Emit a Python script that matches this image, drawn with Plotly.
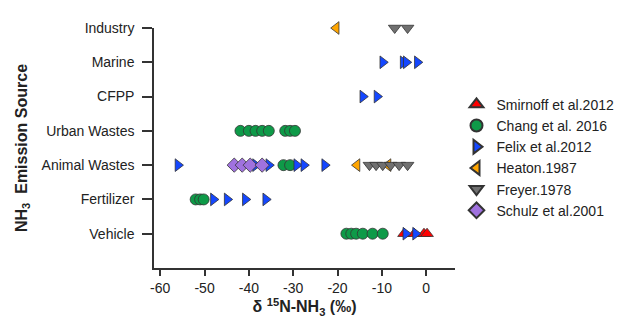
import plotly.graph_objects as go

# Categories (bottom to top)
categories = ["Vehicle", "Fertilizer", "Animal Wastes", "Urban Wastes", "CFPP", "Marine", "Industry"]
x_ticks = [-60, -50, -40, -30, -20, -10, 0]

# delta15N-NH3 values (permil) by study and source
smirnoff_vehicle = [-5.0, -2.7, -0.5, 0.2]

chang_vehicle = [-18.0, -16.9, -15.8, -14.3, -12.1, -9.8]
chang_fertilizer = [-52.0, -51.0, -50.2]
chang_animal = [-32.2, -30.7]
chang_urban = [-41.9, -40.0, -38.5, -37.0, -35.5, -31.8, -30.7, -29.6]

felix_vehicle = [-4.6, -2.4]
felix_fertilizer = [-48.0, -44.9, -40.8, -36.2]
felix_animal = [-56.0, -38.5, -35.5, -29.2, -27.6, -22.9]
felix_cfpp = [-14.3, -11.1]
felix_marine = [-9.8, -5.2, -4.5, -2.0]

heaton_animal = [-15.6, -8.6]
heaton_industry = [-20.3]

freyer_animal = [-12.8, -11.3, -9.8, -8.0, -6.1, -4.2]
freyer_industry = [-7.1, -4.2]

schulz_animal = [-43.3, -41.5, -39.7, -37.0]


def ypos(name):
    return categories.index(name) + 1


def series(groups):
    xs, ys = [], []
    for cat, vals in groups:
        xs += vals
        ys += [ypos(cat)] * len(vals)
    return xs, ys


traces = [
    ("Smirnoff et al.2012", "triangle-up", "#FF0000",
     [("Vehicle", smirnoff_vehicle)]),
    ("Chang et al. 2016", "circle", "#0E9A48",
     [("Vehicle", chang_vehicle), ("Fertilizer", chang_fertilizer),
      ("Animal Wastes", chang_animal), ("Urban Wastes", chang_urban)]),
    ("Felix et al.2012", "triangle-right", "#1447FF",
     [("Vehicle", felix_vehicle), ("Fertilizer", felix_fertilizer),
      ("Animal Wastes", felix_animal), ("CFPP", felix_cfpp), ("Marine", felix_marine)]),
    ("Heaton.1987", "triangle-left", "#FFA500",
     [("Animal Wastes", heaton_animal), ("Industry", heaton_industry)]),
    ("Freyer.1978", "triangle-down", "#707070",
     [("Animal Wastes", freyer_animal), ("Industry", freyer_industry)]),
    ("Schulz et al.2001", "diamond", "#A072DF",
     [("Animal Wastes", schulz_animal)]),
]

fig = go.Figure()
for name, sym, col, groups in traces:
    xs, ys = series(groups)
    fig.add_trace(go.Scatter(
        x=xs, y=ys, mode="markers", name=name, cliponaxis=False,
        marker=dict(symbol=sym, color=col, size=11,
                    line=dict(color="#333333", width=0.8)),
    ))

font = "Liberation Sans, Arial, sans-serif"
fig.update_layout(
    width=629, height=321,
    margin=dict(l=143, r=182, t=15, b=61),
    plot_bgcolor="white", paper_bgcolor="white",
    font=dict(family=font, size=14, color="#222222"),
    showlegend=True,
    legend=dict(x=1.005, y=0.747, xanchor="left", yanchor="top",
                font=dict(size=14, color="#222222"), bgcolor="rgba(0,0,0,0)",
                itemsizing="constant", tracegroupgap=0),
    xaxis=dict(range=[-61.4, 6.5], tickvals=x_ticks, ticktext=[str(v) for v in x_ticks],
               showgrid=False, zeroline=False, showline=True, linecolor="#333333", linewidth=1.5,
               ticks="outside", ticklen=6, tickwidth=1.5, tickcolor="#333333",
               tickfont=dict(size=14),
               title=dict(text="<b>δ <sup>15</sup>N-NH<sub>3</sub> (‰)</b>", font=dict(size=16), standoff=2)),
    yaxis=dict(range=[0, 7], tickvals=[ypos(c) for c in categories], ticktext=categories,
               showgrid=False, zeroline=False, showline=True, linecolor="#333333", linewidth=1.5,
               ticks="outside", ticklen=10, tickwidth=1.5, tickcolor="#333333",
               tickfont=dict(size=14), ticklabelstandoff=5,
               title=dict(text="<b>NH<sub>3</sub>  Emission Source</b>", font=dict(size=16), standoff=10)),
)

fig.write_html("out.html")
